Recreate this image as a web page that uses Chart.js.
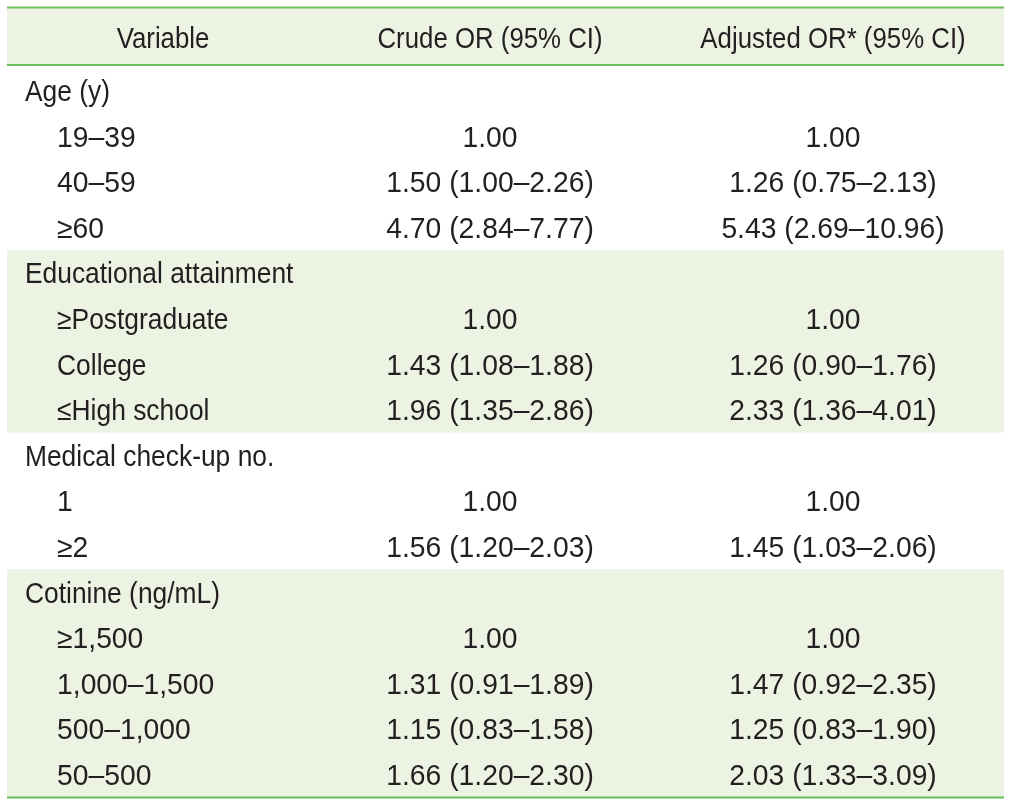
<!DOCTYPE html>
<html><head><meta charset="utf-8">
<script src="https://cdn.jsdelivr.net/npm/chart.js@4.4.1/dist/chart.umd.min.js"></script>
<style>html,body{margin:0;padding:0;background:#fff;overflow:hidden}#wrap{width:1013px;height:806px;position:relative}</style>
</head><body><div id="wrap"><canvas id="c"></canvas></div>
<script>
// ---- data ----
const headers = ['Variable', 'Crude OR (95% CI)', 'Adjusted OR* (95% CI)'];
const rowLabels = ['Age (y)', '19–39', '40–59', '≥60', 'Educational attainment', '≥Postgraduate', 'College', '≤High school',
  'Medical check-up no.', '1', '≥2', 'Cotinine (ng/mL)', '≥1,500', '1,000–1,500', '500–1,000', '50–500'];
const rowLevel  = [0, 1, 1, 1, 0, 1, 1, 1, 0, 1, 1, 0, 1, 1, 1, 1];
const crudeOR   = [null, 1.00, 1.50, 4.70, null, 1.00, 1.43, 1.96, null, 1.00, 1.56, null, 1.00, 1.31, 1.15, 1.66];
const crudeLow  = [null, null, 1.00, 2.84, null, null, 1.08, 1.35, null, null, 1.20, null, null, 0.91, 0.83, 1.20];
const crudeHigh = [null, null, 2.26, 7.77, null, null, 1.88, 2.86, null, null, 2.03, null, null, 1.89, 1.58, 2.30];
const adjOR     = [null, 1.00, 1.26, 5.43, null, 1.00, 1.26, 2.33, null, 1.00, 1.45, null, 1.00, 1.47, 1.25, 2.03];
const adjLow    = [null, null, 0.75, 2.69, null, null, 0.90, 1.36, null, null, 1.03, null, null, 0.92, 0.83, 1.33];
const adjHigh   = [null, null, 2.13, 10.96, null, null, 1.76, 4.01, null, null, 2.06, null, null, 2.35, 1.90, 3.09];
const shadedGroups = [[4, 7], [11, 15]];

// ---- layout / style ----
const COLX = { level0: 0.018, level1: 0.0502, varHead: 0.1565, crude: 0.4845, adj: 0.8285 };
const HEADER_Y = -1.173, HEADER_BOTTOM = -0.56, Y_MIN = -1.831, Y_MAX = 15.515;
const FONT = '29px "Liberation Sans", Arial, sans-serif';
const SX_TEXT = 0.91, SX_NUM = 0.975, SX_HEAD = 0.89, BASE_OFF = 10.5;
const TEXT = '#231f20', BAND = '#edf3e3', RULE = '#6cbe5a';

function fmt(v, lo, hi) {
  if (v === null) return null;
  if (lo === null) return v.toFixed(2);
  return v.toFixed(2) + ' (' + lo.toFixed(2) + '–' + hi.toFixed(2) + ')';
}
const isNumeric = t => /^[≥≤0-9,–.]+$/.test(t);
const labelPts = rowLabels.map((t, i) => ({ x: rowLevel[i] === 0 ? COLX.level0 : COLX.level1, y: i, text: t, align: 'left',
  sx: isNumeric(t) ? SX_NUM : SX_TEXT }));
const crudePts = [], adjPts = [];
rowLabels.forEach((_, i) => {
  const c = fmt(crudeOR[i], crudeLow[i], crudeHigh[i]);
  if (c) crudePts.push({ x: COLX.crude, y: i, text: c, align: 'center', sx: SX_NUM });
  const a = fmt(adjOR[i], adjLow[i], adjHigh[i]);
  if (a) adjPts.push({ x: COLX.adj, y: i, text: a, align: 'center', sx: SX_NUM });
});
const headPts = [
  { x: COLX.varHead, y: HEADER_Y, text: headers[0], align: 'center', sx: SX_HEAD },
  { x: COLX.crude, y: HEADER_Y, text: headers[1], align: 'center', sx: SX_HEAD },
  { x: COLX.adj, y: HEADER_Y, text: headers[2], align: 'center', sx: SX_HEAD }
];

const tablePlugin = {
  id: 'tablePlugin',
  beforeDatasetsDraw(chart) {
    const { ctx, chartArea: a, scales: { y } } = chart;
    ctx.save();
    ctx.fillStyle = BAND;
    ctx.fillRect(a.left, y.getPixelForValue(Y_MIN), a.right - a.left, y.getPixelForValue(HEADER_BOTTOM) - y.getPixelForValue(Y_MIN));
    shadedGroups.forEach(([s, e]) => {
      const top = y.getPixelForValue(s - 0.5);
      const bot = e === rowLabels.length - 1 ? y.getPixelForValue(Y_MAX) : y.getPixelForValue(e + 0.5);
      ctx.fillRect(a.left, top, a.right - a.left, bot - top);
    });
    ctx.strokeStyle = RULE; ctx.lineWidth = 2;
    [Y_MIN + 0.01, HEADER_BOTTOM, Y_MAX - 0.01].forEach(v => {
      const py = y.getPixelForValue(v);
      ctx.beginPath(); ctx.moveTo(a.left, py); ctx.lineTo(a.right, py); ctx.stroke();
    });
    ctx.restore();
  },
  afterDatasetsDraw(chart) {
    const { ctx } = chart;
    ctx.save();
    ctx.fillStyle = TEXT; ctx.font = FONT; ctx.textBaseline = 'alphabetic';
    chart.data.datasets.forEach((ds, di) => {
      const meta = chart.getDatasetMeta(di);
      meta.data.forEach((el, i) => {
        const p = ds.data[i];
        ctx.save();
        ctx.translate(el.x, el.y + BASE_OFF);
        ctx.scale(p.sx, 1);
        ctx.textAlign = p.align;
        ctx.fillText(p.text, 0, 0);
        ctx.restore();
      });
    });
    ctx.restore();
  }
};

new Chart(document.getElementById('c'), {
  type: 'scatter',
  data: { datasets: [
    { label: 'header', data: headPts },
    { label: 'Variable', data: labelPts },
    { label: 'Crude OR', data: crudePts },
    { label: 'Adjusted OR', data: adjPts }
  ] },
  options: {
    responsive: true, maintainAspectRatio: false, animation: false,
    layout: { padding: { left: 7, right: 9, top: 7, bottom: 8 } },
    elements: { point: { radius: 0, hoverRadius: 0 } },
    plugins: { legend: { display: false }, tooltip: { enabled: false } },
    events: [],
    scales: {
      x: { type: 'linear', min: 0, max: 1, display: false },
      y: { type: 'linear', min: Y_MIN, max: Y_MAX, reverse: true, display: false }
    }
  },
  plugins: [tablePlugin]
});
</script>
</body></html>
